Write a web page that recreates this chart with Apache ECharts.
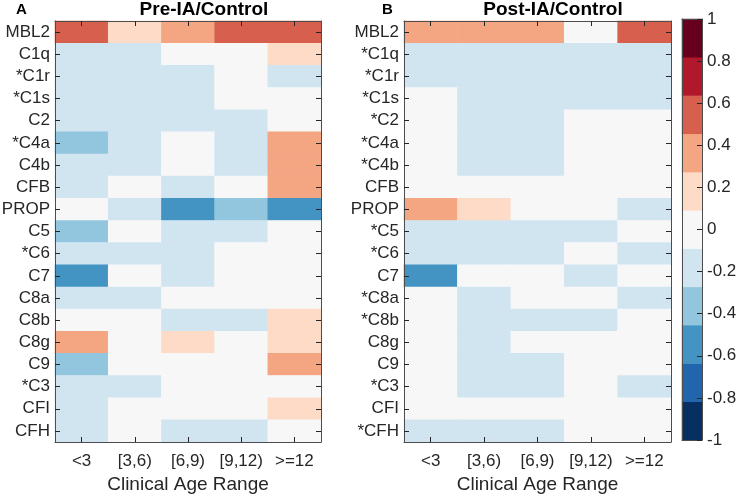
<!DOCTYPE html>
<html><head><meta charset="utf-8">
<script src="https://cdn.jsdelivr.net/npm/echarts@6/dist/echarts.min.js"></script>
<style>html,body{margin:0;padding:0;background:#fff}#chart{width:736px;height:496px}</style>
</head><body><div id="chart"></div>
<script>
const ageRanges = ['<3', '[3,6)', '[6,9)', '[9,12)', '>=12'];
const genesA = ['MBL2','C1q','*C1r','*C1s','C2','*C4a','C4b','CFB','PROP','C5','*C6','C7','C8a','C8b','C8g','C9','*C3','CFI','CFH'];
const genesB = ['MBL2','*C1q','*C1r','*C1s','*C2','*C4a','*C4b','CFB','PROP','*C5','*C6','C7','*C8a','*C8b','C8g','C9','*C3','CFI','*CFH'];
// rows = genes, columns = age ranges
const valuesA = [
  [0.5, 0.2, 0.35, 0.5, 0.5],
  [-0.2, -0.2, 0, 0, 0.2],
  [-0.2, -0.2, -0.2, 0, -0.2],
  [-0.2, -0.2, -0.2, 0, 0],
  [-0.2, -0.2, -0.2, -0.2, 0],
  [-0.4, -0.2, 0, -0.2, 0.35],
  [-0.2, -0.2, 0, -0.2, 0.35],
  [-0.2, 0, -0.2, 0, 0.35],
  [0, -0.2, -0.6, -0.4, -0.6],
  [-0.4, 0, -0.2, -0.2, 0],
  [-0.2, -0.2, -0.2, 0, 0],
  [-0.6, 0, -0.2, 0, 0],
  [-0.2, -0.2, 0, 0, 0],
  [0, 0, -0.2, -0.2, 0.2],
  [0.35, 0, 0.2, 0, 0.2],
  [-0.4, 0, 0, 0, 0.38],
  [-0.2, -0.2, 0, 0, 0],
  [-0.2, 0, 0, 0, 0.2],
  [-0.2, 0, -0.2, -0.2, 0]
];
const valuesB = [
  [0.35, 0.35, 0.35, 0, 0.5],
  [-0.2, -0.2, -0.2, -0.2, -0.2],
  [-0.2, -0.2, -0.2, -0.2, -0.2],
  [0, -0.2, -0.2, -0.2, -0.2],
  [0, -0.2, -0.2, 0, 0],
  [0, -0.2, -0.2, 0, 0],
  [0, -0.2, -0.2, 0, 0],
  [0, 0, 0, 0, 0],
  [0.35, 0.2, 0, 0, -0.2],
  [-0.2, -0.2, -0.2, -0.2, 0],
  [-0.2, -0.2, -0.2, 0, -0.2],
  [-0.6, 0, 0, -0.2, 0],
  [0, -0.2, 0, 0, -0.2],
  [0, -0.2, -0.2, -0.2, 0],
  [0, -0.2, 0, 0, 0],
  [0, -0.2, -0.2, 0, 0],
  [0, -0.2, -0.2, 0, -0.2],
  [0, 0, 0, 0, 0],
  [-0.2, -0.2, -0.2, 0, 0]
];
const colorbarTicks = [-1, -0.8, -0.6, -0.4, -0.2, 0, 0.2, 0.4, 0.6, 0.8, 1];
const binEdges = [-1, -0.8182, -0.6364, -0.4545, -0.2727, -0.0909, 0.0909, 0.2727, 0.4545, 0.6364, 0.8182, 1];
const binCenters = [-0.909, -0.727, -0.545, -0.364, -0.182, 0, 0.182, 0.364, 0.545, 0.727, 0.909];
const binColors = ['#053061','#2166ac','#4393c3','#92c5de','#d1e5f0','#f7f7f7','#fddbc7','#f4a582','#d6604d','#b2182b','#67001f'];

const TXT = '#262626';
const LINE = '#4d4d4d';
const FONT = '"Liberation Sans", Arial, sans-serif';

function toCells(vals) {
  const out = [];
  vals.forEach((row, r) => row.forEach((v, c) => out.push([c, r, v])));
  return out;
}

const grids = [
  {left: 55, top: 21, width: 266, height: 421, containLabel: false, outerBoundsMode: 'none'},
  {left: 404, top: 21, width: 267, height: 421, containLabel: false, outerBoundsMode: 'none'},
  {left: 682, top: 19, width: 20, height: 421, containLabel: false, outerBoundsMode: 'none'}
];

const xAxes = [], yAxes = [];
[genesA, genesB].forEach((genes, g) => {
  xAxes.push({
    type: 'category', gridIndex: g, data: ageRanges, position: 'bottom', z: 10,
    axisLine: {show: true, onZero: false, lineStyle: {color: LINE, width: 1}},
    axisTick: {show: true, inside: true, alignWithLabel: true, length: 5, lineStyle: {color: TXT}},
    axisLabel: {color: TXT, fontSize: 17, fontFamily: FONT, margin: 11, interval: 0},
    name: 'Clinical Age Range', nameLocation: 'middle', nameGap: 31,
    nameTextStyle: {color: TXT, fontSize: 19, fontFamily: FONT},
    splitLine: {show: false}
  });
  xAxes.push({
    type: 'category', gridIndex: g, data: ageRanges, position: 'top', z: 10,
    axisLine: {show: true, onZero: false, lineStyle: {color: LINE, width: 1}},
    axisTick: {show: true, inside: true, alignWithLabel: true, length: 5, lineStyle: {color: TXT}},
    axisLabel: {show: false}, splitLine: {show: false}
  });
  yAxes.push({
    type: 'category', gridIndex: g, data: genes, inverse: true, position: 'left', z: 10,
    axisLine: {show: true, onZero: false, lineStyle: {color: LINE, width: 1}},
    axisTick: {show: true, inside: true, alignWithLabel: true, length: 5, lineStyle: {color: TXT}},
    axisLabel: {color: TXT, fontSize: 17, fontFamily: FONT, margin: 5, interval: 0},
    splitLine: {show: false}
  });
  yAxes.push({
    type: 'category', gridIndex: g, data: genes, inverse: true, position: 'right', z: 10,
    axisLine: {show: true, onZero: false, lineStyle: {color: LINE, width: 1}},
    axisTick: {show: true, inside: true, alignWithLabel: true, length: 5, lineStyle: {color: TXT}},
    axisLabel: {show: false}, splitLine: {show: false}
  });
});
// colorbar axes
const cbCats = binCenters.map(String);
xAxes.push({type: 'category', gridIndex: 2, data: ['cb'], position: 'bottom', z: 10,
  axisLine: {show: true, onZero: false, lineStyle: {color: LINE}}, axisTick: {show: false}, axisLabel: {show: false}});
xAxes.push({type: 'category', gridIndex: 2, data: ['cb'], position: 'top', z: 10,
  axisLine: {show: true, onZero: false, lineStyle: {color: LINE}}, axisTick: {show: false}, axisLabel: {show: false}});
yAxes.push({type: 'category', gridIndex: 2, data: cbCats, position: 'left', z: 10,
  axisLine: {show: true, onZero: false, lineStyle: {color: LINE}}, axisTick: {show: false}, axisLabel: {show: false}});
yAxes.push({type: 'value', gridIndex: 2, min: -1, max: 1, interval: 0.2, position: 'right', z: 10,
  axisLine: {show: true, onZero: false, lineStyle: {color: LINE}},
  axisTick: {show: true, inside: true, length: 5, lineStyle: {color: TXT}},
  axisLabel: {color: TXT, fontSize: 17, fontFamily: FONT, margin: 5,
    formatter: v => { const r = Math.round(v * 10) / 10; return colorbarTicks.includes(r) ? String(r) : ''; }},
  splitLine: {show: false}});

const pieces = binColors.map((c, i) => ({min: binEdges[i], max: binEdges[i + 1], color: c}));

const option = {
  animation: false,
  backgroundColor: '#fff',
  textStyle: {fontFamily: FONT},
  grid: grids,
  xAxis: xAxes,
  yAxis: yAxes,
  visualMap: {type: 'piecewise', show: false, dimension: 2, seriesIndex: [0, 1, 2], pieces: pieces},
  series: [
    {type: 'heatmap', xAxisIndex: 0, yAxisIndex: 0, data: toCells(valuesA), itemStyle: {borderWidth: 0}},
    {type: 'heatmap', xAxisIndex: 2, yAxisIndex: 2, data: toCells(valuesB), itemStyle: {borderWidth: 0}},
    {type: 'heatmap', xAxisIndex: 4, yAxisIndex: 4, data: binCenters.map((v, i) => [0, i, v]), itemStyle: {borderWidth: 0}}
  ],
  graphic: [
    {type: 'text', left: 16, top: 2, style: {text: 'A', font: 'bold 15px ' + FONT, fill: '#000'}},
    {type: 'text', left: 382, top: 2, style: {text: 'B', font: 'bold 15px ' + FONT, fill: '#000'}},
    {type: 'text', x: 204, y: 10, style: {text: 'Pre-IA/Control', font: 'bold 19px ' + FONT, fill: '#000', textAlign: 'center', textVerticalAlign: 'middle'}},
    {type: 'text', x: 553, y: 10, style: {text: 'Post-IA/Control', font: 'bold 19px ' + FONT, fill: '#000', textAlign: 'center', textVerticalAlign: 'middle'}}
  ]
};
const chart = echarts.init(document.getElementById('chart'), null, {renderer: 'canvas'});
chart.setOption(option);
</script></body></html>
